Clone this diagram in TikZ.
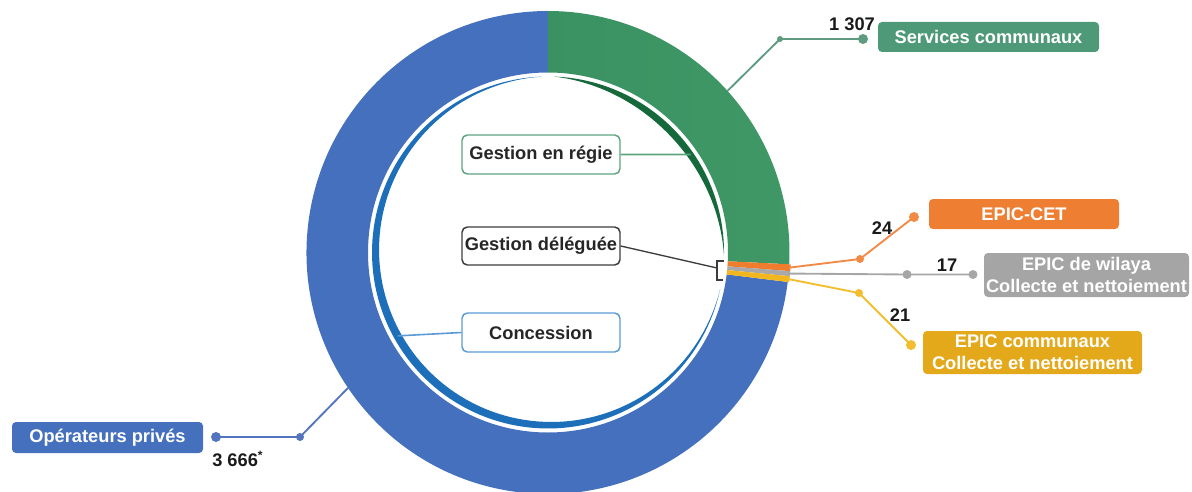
\documentclass[tikz,border=0pt]{standalone}
\usepackage{fontspec}
\setmainfont{Liberation Sans}
\usetikzlibrary{calc}
\newdimen\pxu \pxu=0.75pt

\definecolor{ringblue}{HTML}{4470BD}
\definecolor{ringgreenA}{HTML}{3A9263}
\definecolor{ringgreenB}{HTML}{5EBE7B}
\definecolor{ringgreenC}{HTML}{409866}
\definecolor{sliceorange}{HTML}{F07C2E}
\definecolor{slicegray}{HTML}{A9A9A9}
\definecolor{sliceyellow}{HTML}{F2B71F}
\definecolor{crescgreen}{HTML}{16693A}
\definecolor{crescblue}{HTML}{1D6FBA}
\definecolor{scline}{HTML}{5E9B80}
\definecolor{cetline}{HTML}{F08A45}
\definecolor{willine}{HTML}{A6A6A6}
\definecolor{comline}{HTML}{F2BD2E}
\definecolor{opline}{HTML}{5374BE}
\definecolor{regieborder}{HTML}{5FA47F}
\definecolor{delgborder}{HTML}{3C3C3C}
\definecolor{concborder}{HTML}{5B9BD5}
\definecolor{tagcet}{HTML}{EE7E32}
\definecolor{taggray}{HTML}{A5A5A5}
\definecolor{tagyellow}{HTML}{E3A91A}
\definecolor{taggreen}{HTML}{4E9978}
\definecolor{numtext}{HTML}{1A1A1A}
\definecolor{intext}{HTML}{262626}

\begin{document}
\begin{tikzpicture}[x=0.75pt,y=0.75pt,
  every node/.style={font=\fontsize{13.7}{16.5}\selectfont\bfseries},
  tag/.style={rounded corners=3pt, text=white, inner sep=0pt, align=center},
  inbox/.style={draw, fill=white, rounded corners=4pt, line width=1.1pt,
    inner sep=0pt, text=intext, minimum width=158\pxu, minimum height=39\pxu},
  num/.style={text=numtext, inner sep=0pt},
  lead/.style={line width=1.4pt},
  thinlead/.style={line width=1pt},
]
\useasboundingbox (0,0) rectangle (1192,-492);
\clip (0,0) rectangle (1192,-492);

% centre of the donut
\coordinate (O) at (548,-252.5);

% ---- outer ring ----
% blue sector (private operators)
\fill[ringblue] ($(O)+(-7.0:241.5)$) arc[start angle=-7.0, end angle=-270, radius=241.5]
  -- ($(O)+(90:180)$) arc[start angle=-270, end angle=-7.0, radius=180] -- cycle;
% green sector (municipal services), lighter in the middle
\begin{scope}
  \clip ($(O)+(90:241.5)$) arc[start angle=90, end angle=-2.8, radius=241.5]
    -- ($(O)+(-2.8:180)$) arc[start angle=-2.8, end angle=90, radius=180] -- cycle;
  \shade[left color=ringgreenA, middle color=ringgreenB, right color=ringgreenC]
    (540,-5) rectangle (800,-300);
\end{scope}
% small EPIC slices
\fill[sliceorange] ($(O)+(-2.8:243)$) arc[start angle=-2.8, end angle=-4.4, radius=243]
  -- ($(O)+(-4.4:180)$) arc[start angle=-4.4, end angle=-2.8, radius=180] -- cycle;
\fill[slicegray] ($(O)+(-4.4:243)$) arc[start angle=-4.4, end angle=-5.6, radius=243]
  -- ($(O)+(-5.6:180)$) arc[start angle=-5.6, end angle=-4.4, radius=180] -- cycle;
\fill[sliceyellow] ($(O)+(-5.6:243)$) arc[start angle=-5.6, end angle=-7.0, radius=243]
  -- ($(O)+(-7.0:180)$) arc[start angle=-7.0, end angle=-5.6, radius=180] -- cycle;

% ---- inner crescents ----
\begin{scope}[shift={(O)}]
  \fill[crescgreen] plot[domain=88:-1, samples=90, variable=\t] ({176*cos(\t)},{176*sin(\t)})
    -- plot[domain=-1:88, samples=90, variable=\t]
       ({(176-7*sin(2.0225*(88-\t)))*cos(\t)},{(176-7*sin(2.0225*(88-\t)))*sin(\t)}) -- cycle;
  \fill[crescblue] plot[domain=92:348, samples=120, variable=\t] ({176*cos(\t)},{176*sin(\t)})
    -- plot[domain=348:92, samples=120, variable=\t]
       ({(176-8*sin(0.70312*(\t-92)))*cos(\t)},{(176-8*sin(0.70312*(\t-92)))*sin(\t)}) -- cycle;
\end{scope}

% ---- inner labels ----
\node[inbox, draw=regieborder] (regie) at (541,-154.5) {Gestion en régie};
\node[inbox, draw=delgborder, minimum height=38\pxu] (delg) at (541,-246) {Gestion déléguée};
\node[inbox, draw=concborder] (conc) at (541,-332.5) {Concession};

\coordinate (regieEnd) at ($(O)+(34.5:173)$);
\coordinate (concEnd) at ($(O)+(209:172)$);
\coordinate (brkMid) at (717,-268);
\coordinate (brkTop) at (724,-261);
\coordinate (brkBot) at (723,-280);

\draw[thinlead, regieborder, line width=1.2pt] (regie.east) -- (regieEnd);
\draw[thinlead, concborder, line width=1.2pt] (conc.west) -- (concEnd);
\draw[thinlead, delgborder] (delg.east) -- (brkMid);
\draw[thinlead, delgborder] (brkTop) -- (717,-261) -- (717,-280) -- (brkBot);

% ---- outer tags ----
\node[tag, left color=taggreen, middle color=taggreen!82!black, right color=taggreen,
  minimum width=221\pxu, minimum height=30\pxu] (sc) at (988.5,-37) {Services communaux};
\node[tag, fill=tagcet, minimum width=190\pxu, minimum height=30\pxu] (cet) at (1024,-214) {EPIC-CET};
\node[tag, fill=taggray, minimum width=205\pxu, minimum height=44\pxu] (wil) at (1086.5,-275)
  {EPIC de wilaya\\Collecte et nettoiement};
\node[tag, fill=tagyellow, minimum width=219\pxu, minimum height=43\pxu] (com) at (1032.5,-352.5)
  {EPIC communaux\\Collecte et nettoiement};
\node[tag, left color=ringblue, middle color=ringblue!82!black, right color=ringblue,
  minimum width=191\pxu, minimum height=31\pxu] (op) at (107.5,-437.5) {Opérateurs privés};

% ---- leader lines with dots ----
% Services communaux
\coordinate (scA) at ($(O)+(42:241.5)$);
\coordinate (scB) at (780,-39);
\coordinate (scC) at (863,-39);
\draw[lead, scline] (scA) -- (scB) -- (scC);
\fill[scline] (scB) circle (3);
\fill[scline] (scC) circle (5);
\node[num] (scN) at (852,-24) {1 307};

% EPIC-CET
\coordinate (cetA) at ($(O)+(-3.6:241.5)$);
\coordinate (cetB) at (860,-259);
\coordinate (cetC) at (914,-217);
\draw[lead, cetline] (cetA) -- (cetB) -- (cetC);
\fill[cetline] (cetB) circle (4);
\fill[cetline] (cetC) circle (5);
\node[num] (cetN) at (882,-228) {24};

% EPIC de wilaya
\coordinate (wilA) at ($(O)+(-5.0:241.5)$);
\coordinate (wilB) at (907,-274.5);
\coordinate (wilC) at (973,-274.5);
\draw[lead, willine] (wilA) -- (wilB) -- (wilC);
\fill[willine] (wilB) circle (4.5);
\fill[willine] (wilC) circle (4.5);
\node[num] (wilN) at (947,-265) {17};

% EPIC communaux
\coordinate (comA) at ($(O)+(-6.3:241.5)$);
\coordinate (comB) at (859,-293);
\coordinate (comC) at (911,-345);
\draw[lead, comline] (comA) -- (comB) -- (comC);
\fill[comline] (comB) circle (4);
\fill[comline] (comC) circle (5);
\node[num] (comN) at (900,-315) {21};

% Operateurs prives
\coordinate (opA) at ($(O)+(214.1:241.5)$);
\coordinate (opB) at (300,-437);
\coordinate (opC) at (216,-437);
\draw[lead, opline] (opA) -- (opB) -- (opC);
\fill[opline] (opB) circle (4);
\fill[opline] (opC) circle (5);
\node[num, anchor=west] (opN) at (212,-459) {3 666\raisebox{5pt}{\fontsize{9}{9}\selectfont *}};

\end{tikzpicture}
\end{document}
